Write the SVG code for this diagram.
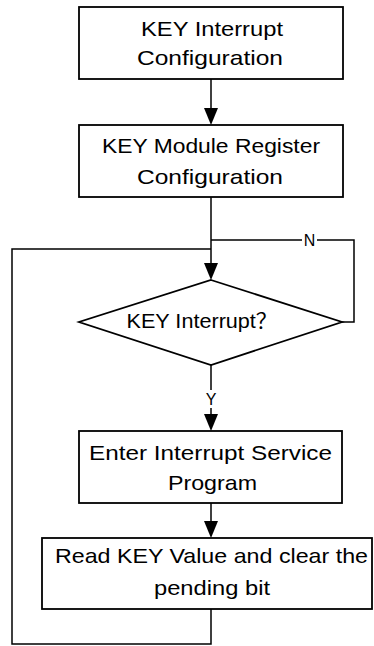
<svg xmlns="http://www.w3.org/2000/svg" width="374" height="646" viewBox="0 0 374 646">
<style>
.box{fill:#fff;stroke:#000;stroke-width:1.8}
.ln{fill:none;stroke:#000;stroke-width:1.5}
.ah{fill:#000}
.t{font-family:"Liberation Sans","Noto Sans CJK SC",sans-serif;font-size:21px;fill:#000;text-anchor:middle}
.cjk{font-family:"Noto Sans CJK SC",sans-serif}
.s{font-family:"Liberation Sans",sans-serif;font-size:16px;fill:#000;text-anchor:middle}
</style>
<g id="connectors">
<line class="ln" x1="211" y1="79" x2="211" y2="108"/>
<path class="ah" d="M204,108 L218,108 L211,125 Z"/>
<line class="ln" x1="211" y1="197" x2="211" y2="263"/>
<path class="ah" d="M204,263 L218,263 L211,280 Z"/>
<polyline class="ln" points="342,322 354,322 354,240 211,240"/>
<rect x="302" y="232" width="15" height="16" fill="#fff"/>
<text class="s" x="309.5" y="246">N</text>
<line class="ln" x1="211" y1="365" x2="211" y2="414"/>
<path class="ah" d="M204,414 L218,414 L211,431 Z"/>
<rect x="204" y="390" width="14" height="18" fill="#fff"/>
<text class="s" x="211" y="405">Y</text>
<line class="ln" x1="211" y1="503" x2="211" y2="521"/>
<path class="ah" d="M204,521 L218,521 L211,538 Z"/>
<polyline class="ln" points="211,609 211,644 12,644 12,249 211,249"/>
</g>
<g id="n1">
<rect class="box" x="79" y="7" width="264" height="72"/>
<text class="t" x="212" y="36" textLength="142" lengthAdjust="spacingAndGlyphs">KEY Interrupt</text>
<text class="t" x="210" y="65" textLength="146" lengthAdjust="spacingAndGlyphs">Configuration</text>
</g>
<g id="n2">
<rect class="box" x="79" y="125" width="264" height="72"/>
<text class="t" x="211" y="153" textLength="218" lengthAdjust="spacingAndGlyphs">KEY Module Register</text>
<text class="t" x="210" y="184" textLength="146" lengthAdjust="spacingAndGlyphs">Configuration</text>
</g>
<g id="n3">
<polygon class="box" points="211,280 342,322 211,365 79,322"/>
<text class="t" x="202" y="328" textLength="151" lengthAdjust="spacingAndGlyphs">KEY Interrupt<tspan class="cjk">？</tspan></text>
</g>
<g id="n4">
<rect class="box" x="79" y="431" width="263" height="72"/>
<text class="t" x="210.5" y="460" textLength="243" lengthAdjust="spacingAndGlyphs">Enter Interrupt Service</text>
<text class="t" x="212.5" y="490" textLength="89" lengthAdjust="spacingAndGlyphs">Program</text>
</g>
<g id="n5">
<rect class="box" x="42" y="538" width="330" height="71"/>
<text class="t" x="211.5" y="563" textLength="313" lengthAdjust="spacingAndGlyphs">Read KEY Value and clear the</text>
<text class="t" x="212" y="595" textLength="116" lengthAdjust="spacingAndGlyphs">pending bit</text>
</g>
</svg>
